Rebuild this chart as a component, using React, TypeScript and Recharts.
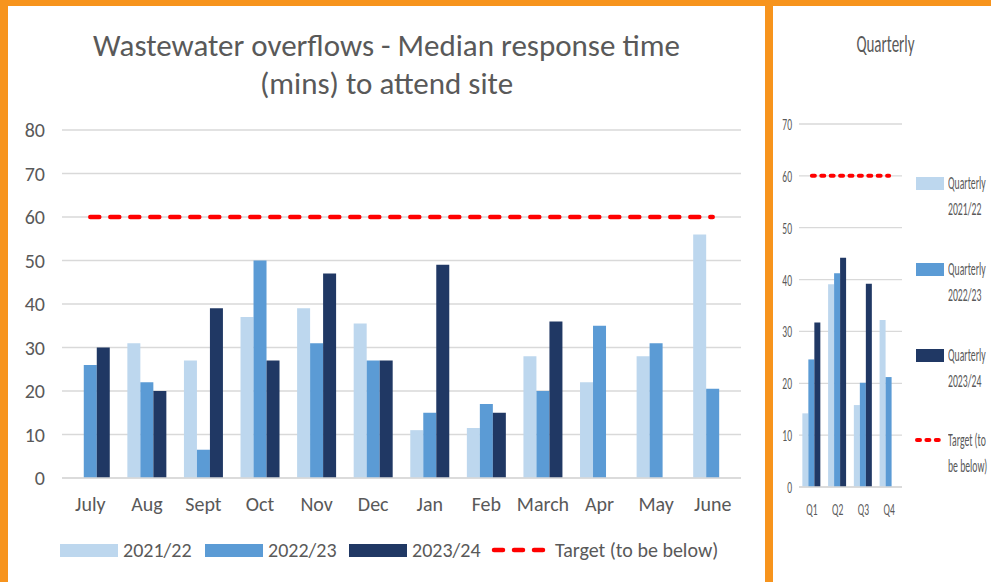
import { ComposedChart, Bar, Line, XAxis, YAxis, CartesianGrid } from "recharts";

const months = ["July", "Aug", "Sept", "Oct", "Nov", "Dec", "Jan", "Feb", "March", "Apr", "May", "June"];
const fy2122 = [null, 31, 27, 37, 39, 35.5, 11, 11.5, 28, 22, 28, 56];
const fy2223 = [26, 22, 6.5, 50, 31, 27, 15, 17, 20, 35, 31, 20.5];
const fy2324 = [30, 20, 39, 27, 47, 27, 49, 15, 36, null, null, null];
const monthTarget = [60, 60, 60, 60, 60, 60, 60, 60, 60, 60, 60, 60];
const monthTicks = [0, 10, 20, 30, 40, 50, 60, 70, 80];

const quarters = ["Q1", "Q2", "Q3", "Q4"];
const q2122 = [14.2, 39.1, 15.8, 32.2];
const q2223 = [24.6, 41.2, 20.1, 21.2];
const q2324 = [31.7, 44.2, 39.2, null];
const quarterTarget = [60, 60, 60, 60];
const quarterTicks = [0, 10, 20, 30, 40, 50, 60, 70];

const monthData = months.map((m, i) => ({
  name: m,
  a: fy2122[i],
  b: fy2223[i],
  c: fy2324[i],
  target: monthTarget[i],
}));

const quarterData = quarters.map((q, i) => ({
  name: q,
  a: q2122[i],
  b: q2223[i],
  c: q2324[i],
  target: quarterTarget[i],
}));

const LIGHT = "#BDD7EE";
const MID = "#5B9BD5";
const DARK = "#203864";
const GRID = "#d9d9d9";
const TEXT = "#595959";
const FONT = "Carlito, Calibri, Lato, sans-serif";

// squeezed text for the small quarterly panel
const NarrowTick = ({ x, y, payload, anchor, dy }: any) => (
  <text
    transform={`translate(${x},${y}) scale(0.56,1)`}
    textAnchor={anchor}
    dy={dy}
    fill={TEXT}
    fontSize={17}
    fontFamily={FONT}
  >
    {payload.value}
  </text>
);

const abs = (left: number, top: number, extra: any = {}) => ({
  position: "absolute" as const,
  left,
  top,
  ...extra,
});

export default function App() {
  const legendText = { fontSize: 20, color: TEXT, fontFamily: FONT, lineHeight: "20px" };
  const narrow = {
    fontSize: 18,
    color: TEXT,
    fontFamily: FONT,
    lineHeight: "26px",
    transform: "scaleX(0.54)",
    transformOrigin: "left top",
    whiteSpace: "nowrap" as const,
  };
  return (
    <div style={{ position: "absolute", left: 0, top: 0, width: 991, height: 582, background: "#F7941D", overflow: "hidden" }}>
      <div style={abs(8, 6, { width: 757, height: 576, background: "#fff" })} />
      <div style={abs(773, 6, { width: 218, height: 576, background: "#fff" })} />

      <div
        style={abs(8, 26, {
          width: 757,
          textAlign: "center",
          fontSize: 31,
          lineHeight: "38px",
          color: TEXT,
          fontFamily: FONT,
        })}
      >
        Wastewater overflows - Median response time
        <br />
        (mins) to attend site
      </div>

      <div style={abs(8, 0)}>
        <ComposedChart
          width={757}
          height={582}
          data={monthData}
          margin={{ top: 130, right: 24, left: 0, bottom: 74 }}
          barCategoryGap="15.5%"
          barGap={0}
        >
          <CartesianGrid vertical={false} stroke={GRID} strokeWidth={1.5} />
          <XAxis
            dataKey="name"
            axisLine={{ stroke: GRID, strokeWidth: 1.5 }}
            tickLine={false}
            tickSize={0}
            tickMargin={19}
            height={30}
            interval={0}
            tick={{ fill: TEXT, fontSize: 20, fontFamily: FONT }}
          />
          <YAxis
            domain={[0, 80]}
            ticks={monthTicks}
            axisLine={false}
            tickLine={false}
            tickSize={0}
            tickMargin={17}
            width={54}
            tick={{ fill: TEXT, fontSize: 20, fontFamily: FONT }}
          />
          <Bar dataKey="a" fill={LIGHT} isAnimationActive={false} />
          <Bar dataKey="b" fill={MID} isAnimationActive={false} />
          <Bar dataKey="c" fill={DARK} isAnimationActive={false} />
          <Line
            dataKey="target"
            stroke="#FF0000"
            strokeWidth={4.5}
            strokeDasharray="9 11"
            strokeLinecap="round"
            dot={false}
            activeDot={false}
            isAnimationActive={false}
          />
        </ComposedChart>
      </div>

      <div style={abs(60, 544, { width: 58, height: 13, background: LIGHT })} />
      <div style={abs(123, 540, legendText)}>2021/22</div>
      <div style={abs(205, 544, { width: 58, height: 13, background: MID })} />
      <div style={abs(268, 540, legendText)}>2022/23</div>
      <div style={abs(349, 544, { width: 58, height: 13, background: DARK })} />
      <div style={abs(412, 540, legendText)}>2023/24</div>
      <svg style={abs(490, 544)} width={60} height={12}>
        <line x1={4} y1={6} x2={56} y2={6} stroke="#FF0000" strokeWidth={4.5} strokeDasharray="9 11" strokeLinecap="round" />
      </svg>
      <div style={abs(555, 540, legendText)}>Target (to be below)</div>

      <div style={abs(773, 28, { width: 224, textAlign: "center" })}>
        <span style={{ display: "inline-block", fontSize: 25, color: TEXT, fontFamily: FONT, transform: "scaleX(0.6)" }}>
          Quarterly
        </span>
      </div>

      <div style={abs(773, 0)}>
        <ComposedChart
          width={218}
          height={582}
          data={quarterData}
          margin={{ top: 124, right: 89, left: 0, bottom: 65 }}
          barCategoryGap="13%"
          barGap={0}
        >
          <CartesianGrid vertical={false} stroke={GRID} strokeWidth={1.3} />
          <XAxis
            dataKey="name"
            axisLine={{ stroke: GRID, strokeWidth: 1.3 }}
            tickLine={false}
            tickSize={0}
            tickMargin={16}
            height={30}
            interval={0}
            tick={<NarrowTick anchor="middle" dy={12} />}
          />
          <YAxis
            domain={[0, 70]}
            ticks={quarterTicks}
            axisLine={false}
            tickLine={false}
            tickSize={0}
            tickMargin={7}
            width={26}
            tick={<NarrowTick anchor="end" dy={6} />}
          />
          <Bar dataKey="a" fill={LIGHT} isAnimationActive={false} />
          <Bar dataKey="b" fill={MID} isAnimationActive={false} />
          <Bar dataKey="c" fill={DARK} isAnimationActive={false} />
          <Line
            dataKey="target"
            stroke="#FF0000"
            strokeWidth={4}
            strokeDasharray="3 6.4"
            strokeLinecap="round"
            dot={false}
            activeDot={false}
            isAnimationActive={false}
          />
        </ComposedChart>
      </div>

      <div style={abs(916, 177, { width: 28, height: 13, background: LIGHT })} />
      <div style={abs(948, 170, narrow)}>Quarterly<br />2021/22</div>
      <div style={abs(916, 263, { width: 28, height: 13, background: MID })} />
      <div style={abs(948, 256, narrow)}>Quarterly<br />2022/23</div>
      <div style={abs(916, 349, { width: 28, height: 13, background: DARK })} />
      <div style={abs(948, 342, narrow)}>Quarterly<br />2023/24</div>
      <svg style={abs(914, 434)} width={32} height={12}>
        <line x1={3} y1={6} x2={29} y2={6} stroke="#FF0000" strokeWidth={4} strokeDasharray="3 6.4" strokeLinecap="round" />
      </svg>
      <div style={abs(948, 427, narrow)}>Target (to<br />be below)</div>
    </div>
  );
}
